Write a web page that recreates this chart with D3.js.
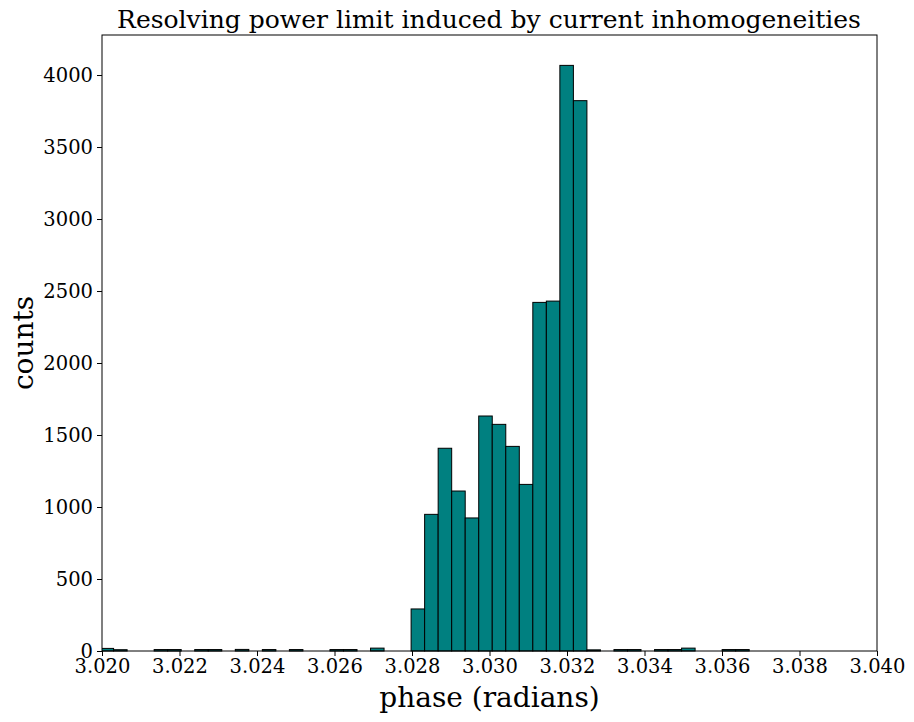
<!DOCTYPE html>
<html><head><meta charset="utf-8">
<script src="https://cdn.jsdelivr.net/npm/d3@7"></script>
<style>
body{margin:0;background:#fff;}
svg{display:block;}
text{font-family:"DejaVu Serif",serif;fill:#000;}
</style></head>
<body>
<svg id="chart" width="914" height="722"></svg>
<script>
// ---- data ----
const binStart = 3.01995;
const binWidth = 0.000349;
const counts = [18, 9, 0, 0, 10, 10, 0, 10, 10, 0,
                11, 0, 10, 0, 10, 0, 0, 10, 10, 0,
                20, 0, 0, 292, 949, 1408, 1111, 924, 1632, 1574,
                1421, 1157, 2421, 2430, 4067, 3822, 8, 0, 10, 10,
                0, 10, 10, 20, 0, 0, 10, 10, 0, 0,
                0, 0, 0, 0, 0, 0, 0, 0];
const xTicks = [3.020, 3.022, 3.024, 3.026, 3.028, 3.030, 3.032, 3.034, 3.036, 3.038, 3.040];
const yTicks = [0, 500, 1000, 1500, 2000, 2500, 3000, 3500, 4000];
const xDomain = [3.020, 3.040];
const yDomain = [0, 4278];
const titleText = "Resolving power limit induced by current inhomogeneities";
const xLabel = "phase (radians)";
const yLabel = "counts";

// ---- layout ----
const L = 102, R = 877, T = 35, B = 651;
const svg = d3.select("#chart");
const x = d3.scaleLinear().domain(xDomain).range([L, R]);
const y = d3.scaleLinear().domain(yDomain).range([B, T]);

svg.append("defs").append("clipPath").attr("id","clip")
  .append("rect").attr("x",L).attr("y",T-2).attr("width",R-L).attr("height",B-T+4);

const bins = counts.map((c,i)=>({x0: binStart + i*binWidth, x1: binStart + (i+1)*binWidth, c}));
svg.append("g").attr("clip-path","url(#clip)")
  .selectAll("rect").data(bins).join("rect")
  .attr("x", d=>x(d.x0))
  .attr("width", d=>x(d.x1)-x(d.x0))
  .attr("y", d=>y(d.c))
  .attr("height", d=>y(0)-y(d.c))
  .attr("fill","#008080")
  .attr("stroke","#000")
  .attr("stroke-width",1);

// axes
const xAxis = d3.axisBottom(x).tickValues(xTicks).tickFormat(d3.format(".3f")).tickSizeOuter(0).tickSize(5).tickPadding(3);
const yAxis = d3.axisLeft(y).tickValues(yTicks).tickFormat(d3.format("d")).tickSizeOuter(0).tickSize(5).tickPadding(4);
const gx = svg.append("g").attr("transform",`translate(0,${B})`).call(xAxis);
const gy = svg.append("g").attr("transform",`translate(${L},0)`).call(yAxis);
[gx,gy].forEach(g=>{
  g.select(".domain").remove();
  g.selectAll("line").attr("stroke","#000").attr("stroke-width",1);
  g.selectAll("text").style("font-family","DejaVu Serif").style("font-size","19.5px").attr("fill","#000");
});

// frame
svg.append("rect").attr("x",L).attr("y",T).attr("width",R-L).attr("height",B-T)
  .attr("fill","none").attr("stroke","#000").attr("stroke-width",1);

// texts
svg.append("text").attr("x",(L+R)/2 - 0.5).attr("y",28).attr("text-anchor","middle")
  .style("font-size","25px").text(titleText);
svg.append("text").attr("x",(L+R)/2).attr("y",707).attr("text-anchor","middle")
  .style("font-size","28px").text(xLabel);
svg.append("text").attr("transform",`translate(33,${(T+B)/2}) rotate(-90)`).attr("text-anchor","middle")
  .style("font-size","28px").text(yLabel);
</script>
</body></html>
